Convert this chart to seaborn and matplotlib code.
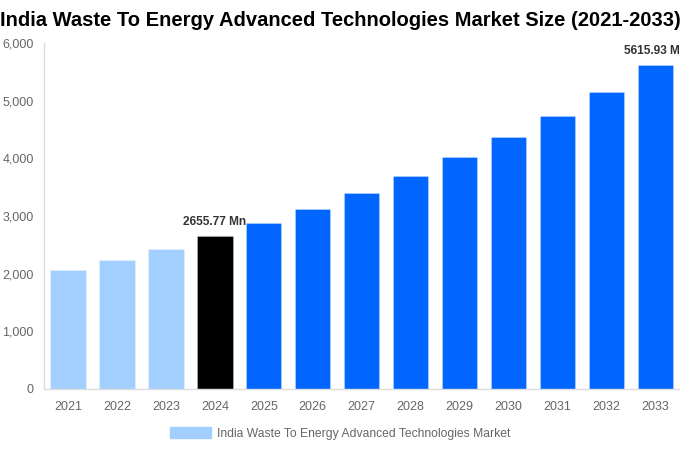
import matplotlib
matplotlib.use("Agg")
import matplotlib.pyplot as plt
import matplotlib.patches as mpatches
import seaborn as sns
import pandas as pd

# data
years = ["2021", "2022", "2023", "2024", "2025", "2026", "2027",
         "2028", "2029", "2030", "2031", "2032", "2033"]
market_size = [2063, 2242, 2433, 2655.77, 2878, 3121, 3399,
               3693, 4018, 4364, 4739, 5150, 5615.93]
bar_colors = ["#a3cfff"] * 3 + ["#000000"] + ["#0066ff"] * 9
labelled = {"2024": "2655.77 Mn", "2033": "5615.93 Mn"}
series_name = "India Waste To Energy Advanced Technologies Market"
title = "India Waste To Energy Advanced Technologies Market Size (2021-2033)"

sns.set_style("white")
plt.rcParams["font.family"] = ["Liberation Sans", "DejaVu Sans"]

df = pd.DataFrame({"year": years, "value": market_size})

fig = plt.figure(figsize=(6.8, 4.5), dpi=100)
ax = fig.add_axes([0.064, 0.1356, 0.936, 0.7688])

sns.barplot(data=df, x="year", y="value", hue="year", palette=bar_colors,
            width=0.72, legend=False, ax=ax, saturation=1)
for p in ax.patches:
    p.set_edgecolor((1, 1, 1, 0.25))
    p.set_linewidth(0.8)

ax.set_ylim(0, 6000)
ax.set_xlim(-0.5, len(years) - 0.5)
ax.set_yticks(range(0, 6001, 1000))
ax.set_yticklabels([f"{v:,}" for v in range(0, 6001, 1000)])
ax.set_xlabel("")
ax.set_ylabel("")
ax.tick_params(axis="both", labelsize=9, colors="#666666", length=0)
ax.tick_params(axis="x", pad=9)
ax.tick_params(axis="y", pad=7)

for side in ["top", "right"]:
    ax.spines[side].set_visible(False)
for side in ["left", "bottom"]:
    ax.spines[side].set_color("#dddddd")
    ax.spines[side].set_linewidth(1)

for i, yr in enumerate(years):
    if yr in labelled:
        ax.text(i, market_size[i] + 140, labelled[yr], ha="center", va="bottom",
                fontsize=8.6, fontweight="bold", color="#333333", clip_on=False)

fig.text(0.5, 0.975, title, ha="center", va="top", fontsize=14.5,
         fontweight="bold", color="#000000")

handle = mpatches.Patch(color="#a3cfff", label=series_name)
fig.legend(handles=[handle], loc="center", bbox_to_anchor=(0.5, 0.037),
           frameon=False, fontsize=8.7, labelcolor="#666666",
           handlelength=3.4, handleheight=1.1, handletextpad=0.5)

fig.savefig("out.png", dpi=100)
